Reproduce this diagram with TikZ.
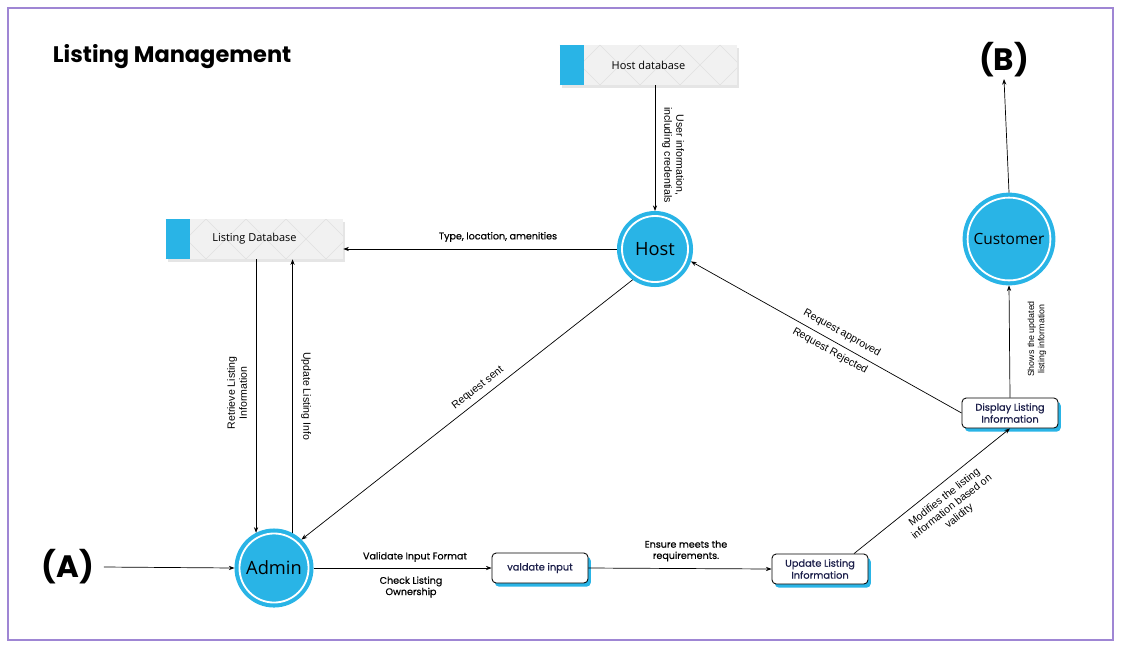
\documentclass[tikz,border=0pt]{standalone}
\usepackage{fontspec}
\setmainfont{Liberation Sans}
\newfontfamily\popfont{Poppins}
\newfontfamily\popmed{Poppins}[FakeBold=0.6]
\newfontfamily\opfont{Open Sans}
\usetikzlibrary{arrows.meta}
\definecolor{nodeblue}{HTML}{29B4E6}
\definecolor{framepurple}{HTML}{9F86D4}
\definecolor{boxtext}{HTML}{1C1F4A}
\definecolor{dbgray}{HTML}{F1F1F1}
\tikzset{
  arr/.style={-{Stealth[length=4pt,width=3pt]}, line width=0.5pt},
  proc/.style={rectangle, rounded corners=3pt, draw, line width=0.6pt, fill=white,
    minimum width=2.4cm, minimum height=0.75cm, align=center, text=boxtext,
    font=\popmed\fontsize{7}{8.5}\selectfont,
    preaction={fill=nodeblue, transform canvas={shift={(2pt,-2.6pt)}}}},
  circ/.style={circle, fill=nodeblue, draw=white, line width=1.3pt, minimum size=1.65cm,
    outer sep=0.125cm, preaction={draw=nodeblue, line width=0.25cm},
    font=\opfont\fontsize{13}{15}\selectfont},
  db/.style={rectangle, fill=dbgray, minimum width=4.425cm, minimum height=1cm,
    font=\opfont\fontsize{7.8}{9}\selectfont, text=black,
    preaction={fill=black, opacity=0.1, transform canvas={shift={(1.5pt,-2.2pt)}}},
    path picture={
      \foreach \k in {-1,...,5}
        \draw[black!12, line width=0.3pt] ([xshift=\k*1cm]path picture bounding box.south west) -- ++(1cm,1cm)
          ([xshift=\k*1cm]path picture bounding box.north west) -- ++(1cm,-1cm);
      \fill[nodeblue] (path picture bounding box.south west) rectangle ([xshift=0.6cm]path picture bounding box.north west);
    }},
  lbl/.style={font=\fontsize{7.5}{8.5}\selectfont, align=center, inner sep=1pt},
  plbl/.style={font=\popmed\fontsize{6.8}{8}\selectfont, align=center, inner sep=1pt},
  big/.style={font=\popfont\bfseries\fontsize{22}{24}\selectfont, inner sep=1pt},
}
\begin{document}
\begin{tikzpicture}[x=0.025cm, y=-0.025cm]
\useasboundingbox (0,0) rectangle (1123,646);
\draw[framepurple, line width=0.8pt] (8,8) rectangle (1113,640);

\node[anchor=west, font=\popfont\bfseries\fontsize{16}{18}\selectfont] (title) at (48,57) {Listing Management};
\node[big] (A) at (68,567) {(A)};
\node[big] (B) at (1004,60) {(B)};

\node[db] (hostdb) at (648.5,65) {Host database};
\node[db] (listdb) at (254.5,239) {Listing Database};

\node[circ] (host) at (655,249) {Host};
\node[circ] (cust) at (1009,239) {\fontsize{11}{13}\selectfont Customer};
\node[circ] (admin) at (274,568) {Admin};

\node[proc] (valid) at (540,568) {valdate input};
\node[proc] (update) at (820,569) {Update Listing\\Information};
\node[proc] (display) at (1010,413) {Display Listing\\Information};

\draw[arr] (host.north |- hostdb.south) -- (host.north);
\draw[arr] (host.west) -- (host.west -| listdb.east);
\draw[arr] (admin.117 |- listdb.south) -- (admin.117);
\draw[arr] (admin.62) -- (admin.62 |- listdb.south);
\draw[arr] (host.234) -- (admin.46);
\draw[arr] (A.east) ++(8,0) -- (admin.west);
\draw[arr] (admin.east) -- (valid.west);
\draw[arr] (valid.east) -- (update.west);
\draw[arr] ([xshift=0.85cm]update.north) -- (display.south);
\draw[arr] (display.west) -- (host.-19);
\draw[arr] (display.north) -- (cust.south);
\draw[arr] (cust.north) -- (B.south);

\node[lbl, rotate=-90] (lcred) at (673,155) {User information,\\including credentials};
\node[plbl] (ltype) at (498,237) {Type, location, amenities};
\node[lbl, rotate=90] (lretr) at (237,393) {Retrieve Listing\\Information};
\node[lbl, rotate=-90] (lupd) at (306,396) {Update Listing Info};
\node[lbl, rotate=38] (lsent) at (478,388) {Request sent};
\node[plbl] (lvalid) at (415,557) {Validate Input Format};
\node[plbl] (lcheck) at (411,587) {Check Listing\\Ownership};
\node[plbl] (lens) at (686,551) {Ensure meets the\\requirements.};
\node[lbl, rotate=38] (lmod) at (952,507) {Modifies the listing\\information based on\\validity};
\node[lbl, rotate=-29] (lappr) at (842,333) {Request approved};
\node[lbl, rotate=-29] (lrej) at (830,351) {Request Rejected};
\node[lbl, rotate=90, font=\fontsize{6.3}{7.3}\selectfont] (lshow) at (1037,339) {Shows the updated\\listing information};
\end{tikzpicture}
\end{document}
